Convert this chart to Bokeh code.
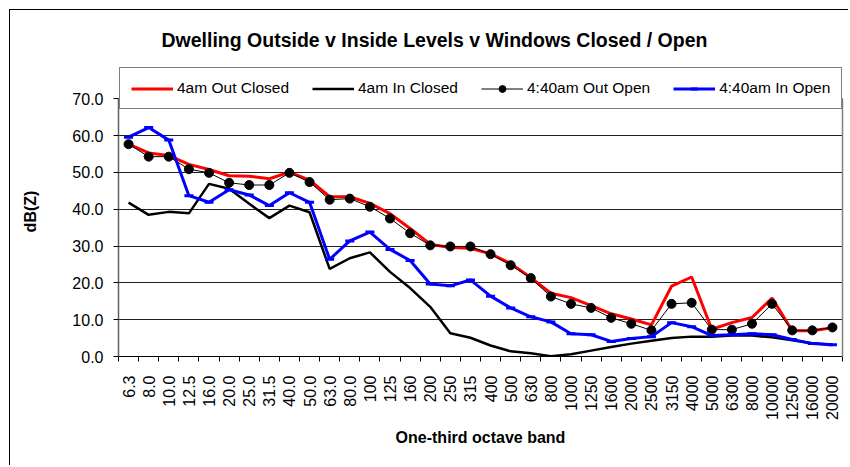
import math
from bokeh.plotting import figure
from bokeh.models import (Range1d, FixedTicker, PrintfTickFormatter, Legend, LegendItem,
                          Title, InlineStyleSheet, LinearAxis)
from bokeh.embed import file_html
from bokeh.resources import INLINE

bands = ["6.3", "8.0", "10.0", "12.5", "16.0", "20.0", "25.0", "31.5", "40.0", "50.0",
         "63.0", "80.0", "100", "125", "160", "200", "250", "315", "400", "500", "630",
         "800", "1000", "1250", "1600", "2000", "2500", "3150", "4000", "5000", "6300",
         "8000", "10000", "12500", "16000", "20000"]

out_closed = [57.7, 55.3, 54.6, 52.2, 50.8, 49.1, 49.0, 48.3, 50.1, 47.9, 43.4, 43.4,
              41.6, 38.8, 34.8, 30.5, 29.6, 29.4, 27.9, 25.3, 21.4, 17.2, 16.0, 13.8,
              11.6, 10.2, 8.6, 19.1, 21.6, 7.4, 9.2, 10.6, 15.9, 7.0, 7.0, 7.8]

in_closed = [41.8, 38.5, 39.3, 38.9, 46.9, 45.6, 41.5, 37.6, 41.0, 39.2, 23.8, 26.7,
             28.3, 23.0, 18.6, 13.5, 6.3, 5.1, 3.0, 1.4, 0.9, 0.1, 0.6, 1.6,
             2.6, 3.5, 4.3, 5.0, 5.4, 5.4, 5.7, 5.7, 5.2, 4.4, 3.6, 3.2]

out_open = [57.7, 54.3, 54.3, 50.9, 49.9, 47.2, 46.6, 46.6, 49.9, 47.4, 42.6, 42.9,
            40.7, 37.5, 33.5, 30.2, 29.9, 29.9, 27.8, 24.8, 21.3, 16.3, 14.3, 13.2,
            10.5, 8.9, 7.1, 14.3, 14.6, 7.3, 7.3, 8.9, 14.3, 7.1, 7.1, 7.9]

in_open = [59.6, 62.2, 58.8, 43.7, 41.9, 45.3, 43.9, 41.0, 44.5, 41.9, 26.4, 31.4,
           33.8, 29.1, 26.1, 19.7, 19.2, 20.8, 16.4, 13.2, 10.8, 9.4, 6.2, 5.9,
           4.1, 4.9, 5.4, 9.2, 8.1, 5.7, 5.9, 6.2, 5.9, 4.6, 3.5, 3.2]

y_ticks = [0, 10, 20, 30, 40, 50, 60, 70]
Y_MAX = 70
Y_TOP = 78.8   # extra headroom inside the frame that the legend box covers

FONT = "Liberation Sans"
x = list(range(len(bands)))

p = figure(width=839, height=456, output_backend="svg", toolbar_location=None,
           x_range=Range1d(-0.5, len(bands) - 0.5), y_range=Range1d(0, Y_TOP),
           min_border_left=108, min_border_right=7, min_border_top=55,
           min_border_bottom=110)
p.stylesheets = [InlineStyleSheet(css=":host { margin-left: 9px; margin-top: 9px; "
                                      "border-left: 1px solid black; border-top: 1px solid black; }")]
p.background_fill_color = "white"
p.border_fill_color = "white"
p.outline_line_color = None

# axes
p.xaxis.ticker = FixedTicker(ticks=x, minor_ticks=[i - 0.5 for i in range(len(bands) + 1)])
p.xaxis.major_label_overrides = {i: b for i, b in enumerate(bands)}
p.xaxis.major_label_orientation = math.pi / 2
p.xaxis.major_tick_out = 0
p.xaxis.major_tick_in = 0
p.xaxis.minor_tick_out = 5
p.xaxis.minor_tick_in = 0
p.xaxis.minor_tick_line_color = "black"
p.xaxis.major_label_standoff = 14
p.xaxis.axis_label = "One-third octave band"
p.xaxis.axis_label_standoff = 6
p.xgrid.visible = False

p.yaxis.ticker = FixedTicker(ticks=y_ticks, minor_ticks=[])
p.yaxis.bounds = (0, Y_MAX)
p.yaxis.formatter = PrintfTickFormatter(format="%.1f")
p.yaxis.major_tick_out = 5
p.yaxis.major_tick_in = 0
p.yaxis.major_label_standoff = 10
p.yaxis.axis_label = "dB(Z)"
p.yaxis.axis_label_standoff = 30
p.yaxis.axis_line_color = "#606060"
p.yaxis.axis_line_width = 1.5

for ax in (p.xaxis, p.yaxis):
    ax.major_label_text_font = FONT
    ax.major_label_text_font_size = "16px"
    ax.major_label_text_color = "black"
    ax.axis_label_text_font = FONT
    ax.axis_label_text_font_size = "16px"
    ax.axis_label_text_font_style = "bold"
    ax.axis_label_text_color = "black"

# right-hand frame border of the plot area
right_axis = LinearAxis(bounds=(0, Y_MAX), ticker=FixedTicker(ticks=[]),
                        axis_line_color="#808080", axis_line_width=1.5,
                        major_tick_line_color=None, minor_tick_line_color=None,
                        major_label_text_font_size="0px")
p.add_layout(right_axis, "right")

p.ygrid.ticker = FixedTicker(ticks=y_ticks)
p.ygrid.grid_line_color = "#202020"
p.ygrid.grid_line_width = 1

# series
r_in_closed = p.line(x, in_closed, line_color="black", line_width=2.5)
r_out_closed = p.line(x, out_closed, line_color="#ff0000", line_width=3)
r_oo_line = p.line(x, out_open, line_color="black", line_width=1)
r_oo_pts = p.scatter(x, out_open, marker="circle", size=9, fill_color="black", line_color="black")
r_io_line = p.line(x, in_open, line_color="#0000ff", line_width=3)
r_io_pts = p.scatter(x, in_open, marker="dash", size=9, line_color="#0000ff", line_width=3)

legend = Legend(items=[
    LegendItem(label="4am Out Closed", renderers=[r_out_closed]),
    LegendItem(label="4am In Closed", renderers=[r_in_closed]),
    LegendItem(label="4:40am Out Open", renderers=[r_oo_line, r_oo_pts]),
    LegendItem(label="4:40am In Open", renderers=[r_io_line, r_io_pts]),
], orientation="horizontal", location="top_left")
legend.label_text_font = FONT
legend.label_text_font_size = "15.5px"
legend.label_text_color = "black"
legend.glyph_width = 42
legend.glyph_height = 17
legend.label_height = 17
legend.label_standoff = 4
legend.spacing = 23
legend.padding = 11
legend.margin = 1
legend.border_line_color = "black"
legend.border_line_width = 1
legend.background_fill_color = "white"
legend.background_fill_alpha = 1.0
p.add_layout(legend, "center")

p.title = Title(text="Dwelling Outside v Inside Levels v Windows Closed / Open",
                align="left", offset=43, text_font=FONT, text_font_size="19.5px",
                text_font_style="bold", text_color="black", standoff=32)

open("out.html", "w").write(file_html(p, INLINE))
